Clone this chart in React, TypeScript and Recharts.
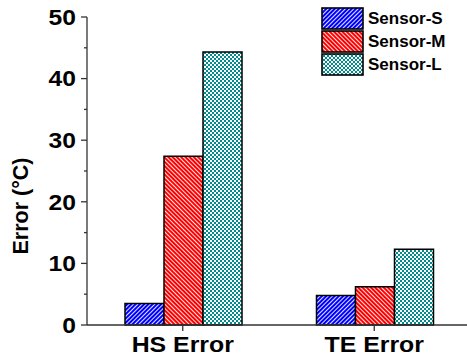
import React from 'react';
import { BarChart, Bar, XAxis, YAxis, Legend, Label } from 'recharts';

// Error values per category for each sensor size
const categories = ['HS Error', 'TE Error'];
const sensorS = [3.5, 4.8];
const sensorM = [27.4, 6.2];
const sensorL = [44.3, 12.3];
const seriesNames = ['Sensor-S', 'Sensor-M', 'Sensor-L'];
const yTicks = [0, 5, 10, 15, 20, 25, 30, 35, 40, 45, 50];

const data = categories.map((c, i) => ({
  category: c,
  s: sensorS[i],
  m: sensorM[i],
  l: sensorL[i],
}));

const seriesKeys = ['s', 'm', 'l'];
const patternIds = ['patS', 'patM', 'patL'];

const AXIS = '#333333';
const FONT = 'Arial, "Liberation Sans", Helvetica, sans-serif';

const YTick = (props: any) => {
  const { x, y, payload } = props;
  const v = payload.value as number;
  const major = v % 10 === 0;
  const ax = x + 11;
  return (
    <g>
      <line x1={ax - (major ? 6 : 3)} x2={ax} y1={y} y2={y} stroke={AXIS} strokeWidth={1.3} />
      {major && (
        <g transform={`translate(${x},${y}) scale(1.12,1)`}>
          <text x={0} y={0} dy="0.355em" textAnchor="end" fontFamily={FONT} fontWeight="bold" fontSize={22} fill="#000">
            {v}
          </text>
        </g>
      )}
    </g>
  );
};

const XTick = (props: any) => {
  const { x, y, payload } = props;
  return (
    <g transform={`translate(${x},${y}) scale(1.13,1)`}>
      <text x={0} y={0} dy="0.71em" textAnchor="middle" fontFamily={FONT} fontWeight="bold" fontSize={22} fill="#000">
        {payload.value}
      </text>
    </g>
  );
};

const LegendBox = (props: any) => {
  const payload = [...(props.payload || [])].sort(
    (a: any, b: any) => seriesKeys.indexOf(a.dataKey) - seriesKeys.indexOf(b.dataKey)
  );
  return (
    <div style={{ display: 'flex', flexDirection: 'column' }}>
      {payload.map((p: any, i: number) => {
        const idx = seriesKeys.indexOf(p.dataKey);
        return (
          <div key={i} style={{ display: 'flex', alignItems: 'center', height: 23 }}>
            <svg width={43} height={23} style={{ display: 'block' }}>
              <rect x={1} y={1} width={41} height={21} fill={`url(#${patternIds[idx]})`} stroke="#000" strokeWidth={1.6} />
            </svg>
            <span style={{ marginLeft: 4, fontFamily: FONT, fontWeight: 'bold', fontSize: 17, color: '#000', lineHeight: '23px' }}>
              {p.value}
            </span>
          </div>
        );
      })}
    </div>
  );
};

export default function App() {
  return (
    <div style={{ position: 'absolute', left: 0, top: 0 }}>
      <style>{'body{margin:0;overflow:hidden;background:#fff}'}</style>
      <BarChart
        width={475}
        height={359}
        data={data}
        margin={{ top: 17, right: 5, left: 0, bottom: 0 }}
        barCategoryGap={38}
        barGap={0}
      >
        <defs>
          <pattern id="patS" width={3} height={3} patternUnits="userSpaceOnUse" patternTransform="rotate(45)">
            <rect width={3} height={3} fill="#0000ff" />
            <rect width={0.9} height={3} fill="#ffffff" />
          </pattern>
          <pattern id="patM" width={3} height={3} patternUnits="userSpaceOnUse" patternTransform="rotate(-45)">
            <rect width={3} height={3} fill="#ff0000" />
            <rect width={0.9} height={3} fill="#ffffff" />
          </pattern>
          <pattern id="patL" width={4} height={4} patternUnits="userSpaceOnUse">
            <rect width={4} height={4} fill="#ffffff" />
            <rect width={2} height={2} fill="#008c8c" />
            <rect x={2} y={2} width={2} height={2} fill="#008c8c" />
          </pattern>
        </defs>
        <XAxis
          dataKey="category"
          height={34}
          tickSize={6}
          tickMargin={5}
          axisLine={{ stroke: AXIS, strokeWidth: 1.5 }}
          tickLine={{ stroke: AXIS, strokeWidth: 1.3 }}
          tick={<XTick />}
        />
        <YAxis
          type="number"
          domain={[0, 50]}
          ticks={yTicks}
          interval={0}
          width={87}
          tickSize={6}
          tickMargin={5}
          tickLine={false}
          axisLine={{ stroke: AXIS, strokeWidth: 1.3 }}
          tick={<YTick />}
        >
          <Label
            content={() => (
              <text
                x={27.5}
                y={206}
                textAnchor="middle"
                transform="rotate(-90, 27.5, 206)"
                fontFamily={FONT}
                fontWeight="bold"
                fontSize={21.5}
                fill="#000"
              >
                Error (°C)
              </text>
            )}
          />
        </YAxis>
        <Legend
          layout="vertical"
          align="center"
          verticalAlign="middle"
          wrapperStyle={{ left: 321, top: 7, width: 150 }}
          content={<LegendBox />}
        />
        {seriesKeys.map((k, i) => (
          <Bar
            key={k}
            dataKey={k}
            name={seriesNames[i]}
            fill={`url(#${patternIds[i]})`}
            stroke="#000"
            strokeWidth={1.5}
            isAnimationActive={false}
          />
        ))}
      </BarChart>
    </div>
  );
}
